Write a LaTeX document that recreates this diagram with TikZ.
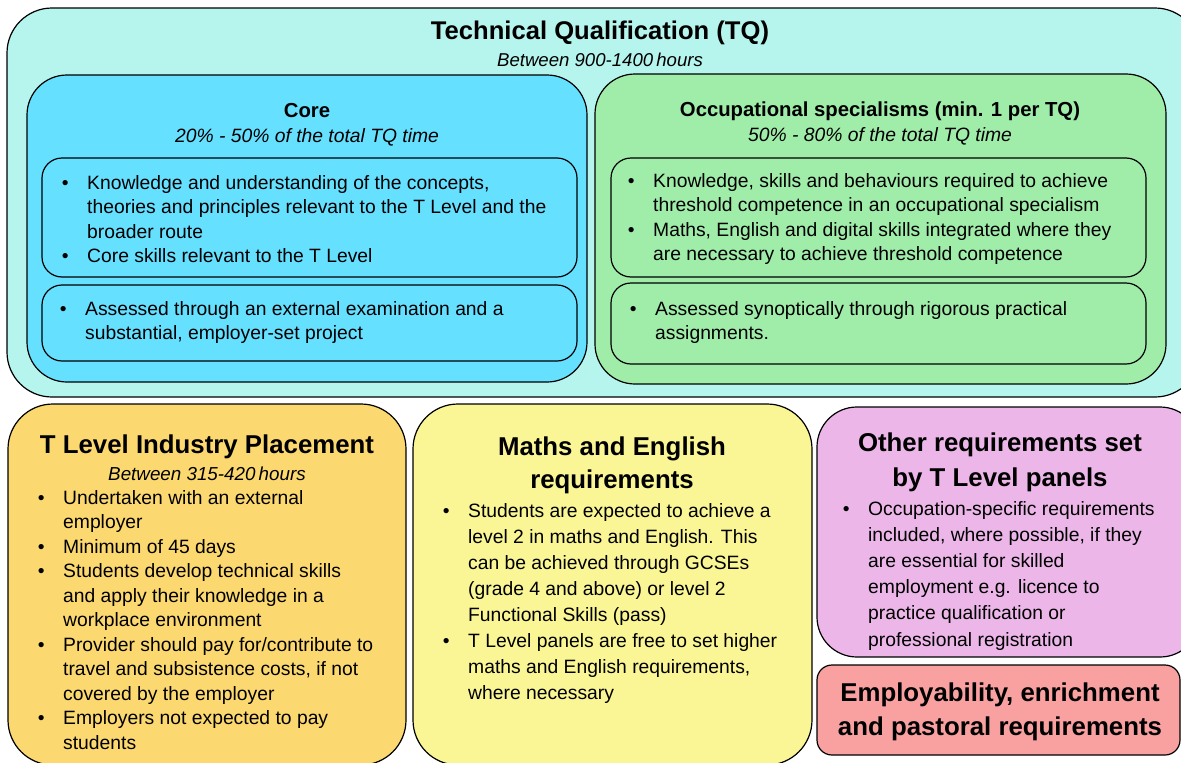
\documentclass[tikz,border=0pt]{standalone}
\usepackage{fontspec}
\setmainfont{Liberation Sans}
\definecolor{tqfill}{RGB}{182,245,238}
\definecolor{corefill}{RGB}{102,224,255}
\definecolor{occfill}{RGB}{160,237,170}
\definecolor{placefill}{RGB}{252,217,112}
\definecolor{mathsfill}{RGB}{250,246,150}
\definecolor{otherfill}{RGB}{236,182,233}
\definecolor{employfill}{RGB}{249,161,161}
\newcommand{\bul}{\llap{\textbullet\hspace{18.5pt}}}
\tikzset{
  box/.style={draw=black, line width=1.2pt},
  body/.style={font=\fontsize{19.3}{24.5}\selectfont, align=left, anchor=north west, inner sep=0pt},
  head/.style={font=\bfseries\fontsize{25.8}{33}\selectfont, align=center, inner sep=0pt},
  subhead/.style={font=\itshape\fontsize{19.3}{24}\selectfont, inner sep=0pt},
  minihead/.style={font=\bfseries\fontsize{20.3}{24}\selectfont, inner sep=0pt},
}
\begin{document}
\begin{tikzpicture}[x=1pt,y=-1pt]
		\useasboundingbox (0,0) rectangle (1181,763);
		\clip (0,0) rectangle (1181,763);
		
		% technical qualification
		\filldraw[box,fill=tqfill,rounded corners=45pt] (7,8) rectangle (1200,397);
		\node[font=\bfseries\fontsize{25.6}{30}\selectfont, inner sep=0pt] (tq) at (600,33) {Technical Qualification (TQ)};
		\node[subhead,font=\itshape\fontsize{18.6}{22}\selectfont] (tqhours) at (600,60) {Between 900-1400\,hours};
		
		% core
		\filldraw[box,fill=corefill,rounded corners=40pt] (27,75) rectangle (587,382);
		\node[minihead] (core) at (307,111) {Core};
		\node[subhead] (coretime) at (307,137) {20\% - 50\% of the total TQ time};
		\filldraw[box,fill=corefill,rounded corners=20pt] (42,158) rectangle (577,277);
		\node[body] (coretxt) at (87,175) {\bul Knowledge and understanding of the concepts,\\ theories and principles relevant to the T Level and the\\ broader route\\ \bul Core skills relevant to the T Level};
		\filldraw[box,fill=corefill,rounded corners=20pt] (42,285) rectangle (577,361);
		\node[body] (coreass) at (85,301) {\bul Assessed through an external examination and a\\ substantial, employer-set project};
		
		% occupational specialisms
		\filldraw[box,fill=occfill,rounded corners=40pt] (595,74) rectangle (1166,384);
		\node[minihead] (occ) at (880,111) {Occupational specialisms (min. 1 per TQ)};
		\node[subhead] (occtime) at (880,136) {50\% - 80\% of the total TQ time};
		\filldraw[box,fill=occfill,rounded corners=20pt] (611,158) rectangle (1146,277);
		\node[body] (occtxt) at (653,173) {\bul Knowledge, skills and behaviours required to achieve\\ threshold competence in an occupational specialism\\ \bul Maths, English and digital skills integrated where they\\ are necessary to achieve threshold competence};
		\filldraw[box,fill=occfill,rounded corners=20pt] (611,283) rectangle (1146,364);
		\node[body] (occass) at (655,301) {\bul Assessed synoptically through rigorous practical\\ assignments.};
		
		% industry placement
		\filldraw[box,fill=placefill,rounded corners=45pt] (8,404) rectangle (406,765);
		\node[head] (place) at (207,447) {T Level Industry Placement};
		\node[subhead,font=\itshape\fontsize{18.8}{22}\selectfont] (placehours) at (207,474) {Between 315-420\,hours};
		\node[body] (placetxt) at (63,490) {\bul Undertaken with an external\\ employer\\ \bul Minimum of 45 days\\ \bul Students develop technical skills\\ and apply their knowledge in a\\ workplace environment\\ \bul Provider should pay for/contribute to\\ travel and subsistence costs, if not\\ covered by the employer\\ \bul Employers not expected to pay\\ students};
		
		% maths and english
		\filldraw[box,fill=mathsfill,rounded corners=45pt] (413,404) rectangle (812,765);
		\node[head] (maths) at (612,465) {Maths and English\\ requirements};
		\node[body,font=\fontsize{19.3}{26}\selectfont] (mathstxt) at (468,503) {\bul Students are expected to achieve a\\ level 2 in maths and English. This\\ can be achieved through GCSEs\\ (grade 4 and above) or level 2\\ Functional Skills (pass)\\ \bul T Level panels are free to set higher\\ maths and English requirements,\\ where necessary};
		
		% other requirements
		\filldraw[box,fill=otherfill,rounded corners=40pt] (817,407) rectangle (1200,657);
		\node[head,font=\bfseries\fontsize{25.8}{35}\selectfont] (other) at (1000,462) {Other requirements set\\ by T Level panels};
		\node[body,font=\fontsize{19.3}{26.2}\selectfont] (othertxt) at (868,501) {\bul Occupation-specific requirements\\ included, where possible, if they\\ are essential for skilled\\ employment e.g. licence to\\ practice qualification or\\ professional registration};
		
		% employability
		\filldraw[box,fill=employfill,rounded corners=15pt] (817,665) rectangle (1180,755);
		\node[head,font=\bfseries\fontsize{25.8}{34}\selectfont] (employ) at (1000,712) {Employability, enrichment\\ and pastoral requirements};
	\end{tikzpicture}
\end{document}
